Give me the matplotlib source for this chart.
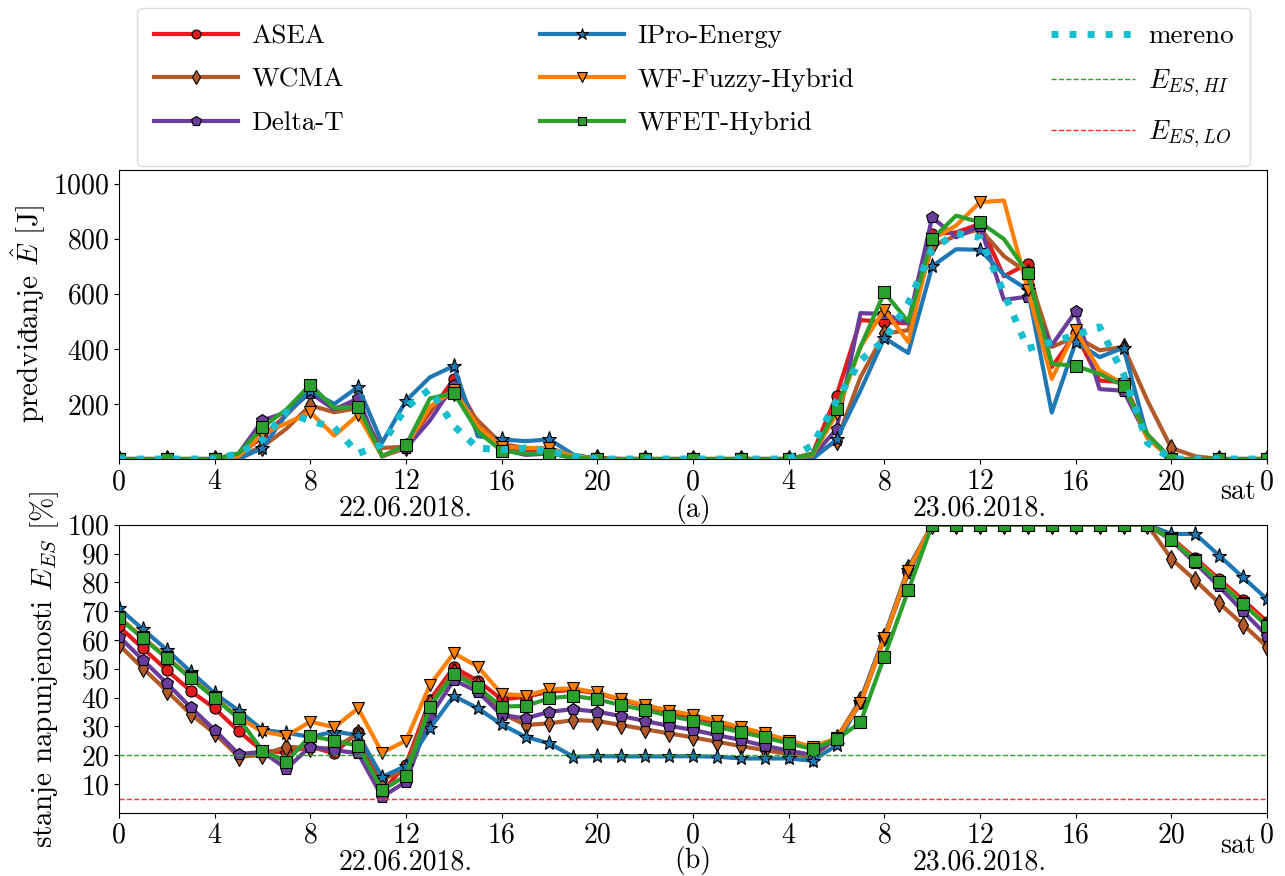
import matplotlib
matplotlib.use("Agg")
import matplotlib.pyplot as plt
import matplotlib.transforms as mtransforms

plt.rcParams['font.family'] = ['cmr10', 'DejaVu Serif']
plt.rcParams['mathtext.fontset'] = 'cm'
plt.rcParams['axes.formatter.use_mathtext'] = True
plt.rcParams['axes.unicode_minus'] = False

# sati 0..48 (22.06. i 23.06.2018.)
sati = list(range(49))
tick_pos = list(range(0, 49, 4))
tick_lab = ['0', '4', '8', '12', '16', '20', '0', '4', '8', '12', '16', '20', '0']

metode = ['ASEA', 'WCMA', 'Delta-T', 'IPro-Energy', 'WF-Fuzzy-Hybrid', 'WFET-Hybrid']
boje = ['#e41a1c', '#b15928', '#6a3d9a', '#1f78b4', '#ff7f00', '#2ca02c']
markeri = ['o', 'd', 'p', '*', 'v', 's']

# predviđanje energije [J]
asea_e = [0, 0, 0, 0, 0, 15, 80, 160, 250, 185, 200, 10, 50, 170, 290, 130, 40, 30, 30, 10, 0, 0, 0, 0,
          0, 0, 0, 0, 0, 20, 230, 505, 497, 493, 817, 823, 854, 664, 710, 334, 456, 285, 279, 89, 0, 0, 0, 0, 0]
wcma_e = [0, 0, 0, 0, 0, 10, 45, 110, 195, 170, 185, 40, 45, 180, 245, 140, 55, 40, 40, 10, 5, 0, 0, 0,
          0, 0, 0, 0, 0, 10, 65, 297, 456, 468, 774, 811, 835, 737, 676, 407, 444, 395, 407, 212, 40, 10, 0, 0, 0]
delta_e = [0, 0, 0, 0, 0, 20, 140, 170, 240, 180, 220, 10, 40, 140, 270, 110, 35, 15, 20, 5, 0, 0, 0, 0,
           0, 0, 0, 0, 0, 10, 108, 530, 527, 493, 878, 805, 848, 578, 590, 413, 536, 254, 248, 77, 0, 0, 0, 0, 0]
ipro_e = [0, 0, 0, 0, 0, 0, 40, 163, 248, 200, 262, 59, 212, 297, 338, 83, 71, 65, 71, 16, 0, 0, 0, 0,
          0, 0, 0, 0, 0, 0, 71, 248, 440, 385, 700, 762, 760, 670, 615, 169, 425, 370, 404, 80, 0, 0, 0, 0, 0]
fuzzy_e = [0, 0, 0, 0, 0, 10, 90, 130, 170, 85, 160, 10, 45, 190, 250, 120, 45, 40, 40, 10, 0, 0, 0, 0,
           0, 0, 0, 0, 0, 15, 163, 407, 542, 425, 799, 848, 933, 939, 615, 291, 468, 322, 273, 77, 0, 0, 0, 0, 0]
wfet_e = [0, 0, 0, 0, 0, 20, 115, 180, 270, 185, 190, 10, 50, 220, 240, 100, 30, 20, 20, 5, 0, 0, 0, 0,
          0, 0, 0, 0, 0, 18, 181, 407, 605, 499, 799, 884, 860, 799, 676, 346, 338, 309, 267, 89, 0, 0, 0, 0, 0]
mereno = [0, 0, 0, 0, 0, 20, 70, 170, 138, 115, 20, 53, 187, 254, 120, 40, 34, 40, 28, 10, 0, 0, 0, 0,
          0, 0, 0, 0, 0, 50, 211, 358, 432, 566, 762, 820, 805, 603, 401, 425, 450, 480, 309, 59, 0, 0, 0, 0, 0]

# stanje napunjenosti [%]
asea_s = [64.7, 57.1, 49.6, 42.3, 36.3, 28.4, 21.5, 21, 23, 20.7, 28.2, 7.3, 16.8, 39.2, 50.5, 45.9, 39.4, 40.3,
          42.1, 42.7, 41.5, 39.2, 37.1, 35.1,
          32.8, 31.1, 29, 27, 24.7, 22.4, 25.9, 38, 60.6, 84, 100, 100, 100, 100, 100, 100, 100, 100, 100, 100,
          95.4, 88.4, 81.1, 73.9, 66.4]
wcma_s = [58.3, 50.2, 42.3, 34.3, 27.6, 19.5, 20.1, 23, 22.4, 22.4, 27.6, 11.4, 15.4, 38, 49, 44.4, 34.6, 30.5,
          31.1, 32.2, 31.9, 30.5, 29, 27.6,
          26.2, 24.7, 23.2, 21.8, 20.4, 19.5, 25.9, 39.2, 61.2, 85, 100, 100, 100, 100, 100, 100, 100, 100, 100, 100,
          88.2, 80.7, 72.8, 65.3, 57.7]
delta_s = [61.2, 53.1, 45, 36.6, 28.8, 20.4, 21.2, 15.4, 23, 21.8, 20.7, 5.6, 10.8, 33.4, 46.1, 42.1, 34, 32.8,
           35.1, 36, 35.1, 33.6, 31.9, 30.2,
           28.8, 27, 25.3, 23.3, 21.6, 20.1, 25.9, 38, 60.6, 83.2, 100, 100, 100, 100, 100, 100, 100, 100, 100, 100,
           94.6, 86.7, 78.6, 69.9, 61.5]
ipro_s = [71, 63.7, 56.6, 49, 41.5, 35.5, 28.8, 27.8, 26.4, 28.2, 27, 12.5, 16.3, 29.3, 40.6, 36.3, 30.7, 26.4,
          24.1, 19.5, 19.7, 19.6, 19.6, 19.6,
          19.7, 19.5, 18.9, 18.9, 18.9, 18.1, 23.5, 38.6, 61.2, 84.4, 100, 100, 100, 100, 100, 100, 100, 100, 100, 100,
          96.8, 96.8, 89.3, 81.7, 74.2]
fuzzy_s = [67.9, 60.9, 54, 47, 40.1, 33.1, 28.2, 26.7, 31.7, 29.7, 36.3, 20.9, 25.1, 44.4, 55.4, 50.8, 41.3, 40.7,
           42.9, 43.2, 41.8, 39.4, 37.4, 35.5,
           34, 31.9, 29.7, 27.6, 25.1, 23, 25.9, 38, 60.6, 84, 100, 100, 100, 100, 100, 100, 100, 100, 100, 100,
           95, 87.8, 80.3, 72.8, 65.3]
wfet_s = [67.6, 60.6, 53.7, 46.7, 39.8, 32.8, 21.6, 17.8, 26.7, 25.1, 23.3, 7.9, 12.9, 36.9, 48.1, 43.6, 36.9, 37.1,
          39.8, 40.6, 39.4, 37.4, 35.7, 33.7,
          32, 29.9, 28, 26.2, 24.1, 22.2, 25.5, 31.4, 54.2, 77.2, 100, 100, 100, 100, 100, 100, 100, 100, 100, 100,
          94.8, 87.5, 80, 72.5, 64.9]

E_HI = 20
E_LO = 5

energija = [asea_e, wcma_e, delta_e, ipro_e, fuzzy_e, wfet_e]
stanje = [asea_s, wcma_s, delta_s, ipro_s, fuzzy_s, wfet_s]
msize = [8, 9, 9, 11, 9, 8]

fig = plt.figure(figsize=(12.85, 8.76), dpi=100)
ax1 = fig.add_axes([0.0926, 0.476, 0.8934, 0.330])
ax2 = fig.add_axes([0.0926, 0.072, 0.8934, 0.329])

for i in range(6):
    ax1.plot(sati, energija[i], color=boje[i], lw=3, marker=markeri[i], markevery=2,
             ms=msize[i], mec='black', mew=0.8, label=metode[i])
l_mer, = ax1.plot(sati, mereno, color='#17becf', lw=5, ls=(0, (1, 1.6)), label='mereno')

handles = []
for i in range(6):
    h, = ax2.plot(sati, stanje[i], color=boje[i], lw=3, marker=markeri[i],
                  ms=msize[i], mec='black', mew=0.8, label=metode[i])
    handles.append(h)
h_hi = ax2.axhline(E_HI, color='#2ca02c', lw=1, ls='--', label=r'$E_{ES,HI}$')
h_lo = ax2.axhline(E_LO, color='#ff3030', lw=1, ls='--', label=r'$E_{ES,LO}$')

ax1.set_xlim(0, 48)
ax1.set_ylim(0, 1050)
ax1.set_yticks([200, 400, 600, 800, 1000])
ax2.set_xlim(0, 48)
ax2.set_ylim(0, 100)
ax2.set_yticks(range(10, 101, 10))

for ax, slovo, y_sl in [(ax1, '(a)', -0.175), (ax2, '(b)', -0.164)]:
    ax.set_xticks(tick_pos)
    ax.set_xticklabels(tick_lab)
    ax.tick_params(labelsize=20)
    tr = mtransforms.blended_transform_factory(ax.transData, ax.transAxes)
    ax.text(12, -0.17, '22.06.2018.', transform=tr, ha='center', va='center', fontsize=20)
    ax.text(36, -0.17, '23.06.2018.', transform=tr, ha='center', va='center', fontsize=20)
    ax.text(24, y_sl, slovo, transform=tr, ha='center', va='center', fontsize=20)
    ax.text(0.975, -0.113, 'sat', transform=ax.transAxes, ha='center', va='center', fontsize=20)

# đ nije u cmr10, pa ide kroz mathtext (fallback)
ax1.set_ylabel(r'predvi$\mathrm{đ}$anje $\hat{E}$ [J]', fontsize=21)
ax2.set_ylabel(r'stanje napunjenosti $E_{ES}$ [%]', fontsize=21)

fig.legend(handles + [l_mer, h_hi, h_lo], metode + ['mereno', r'$E_{ES,HI}$', r'$E_{ES,LO}$'],
           ncol=3, loc='upper left', bbox_to_anchor=(0.107, 0.991, 0.866, 0.0), mode='expand',
           borderaxespad=0, fontsize=19.5, handlelength=3.1, handletextpad=0.5, markerscale=0.8,
           framealpha=1, edgecolor='#dddddd', fancybox=True,
           borderpad=0.6, labelspacing=0.72)

fig.savefig('out.png', dpi=100)
